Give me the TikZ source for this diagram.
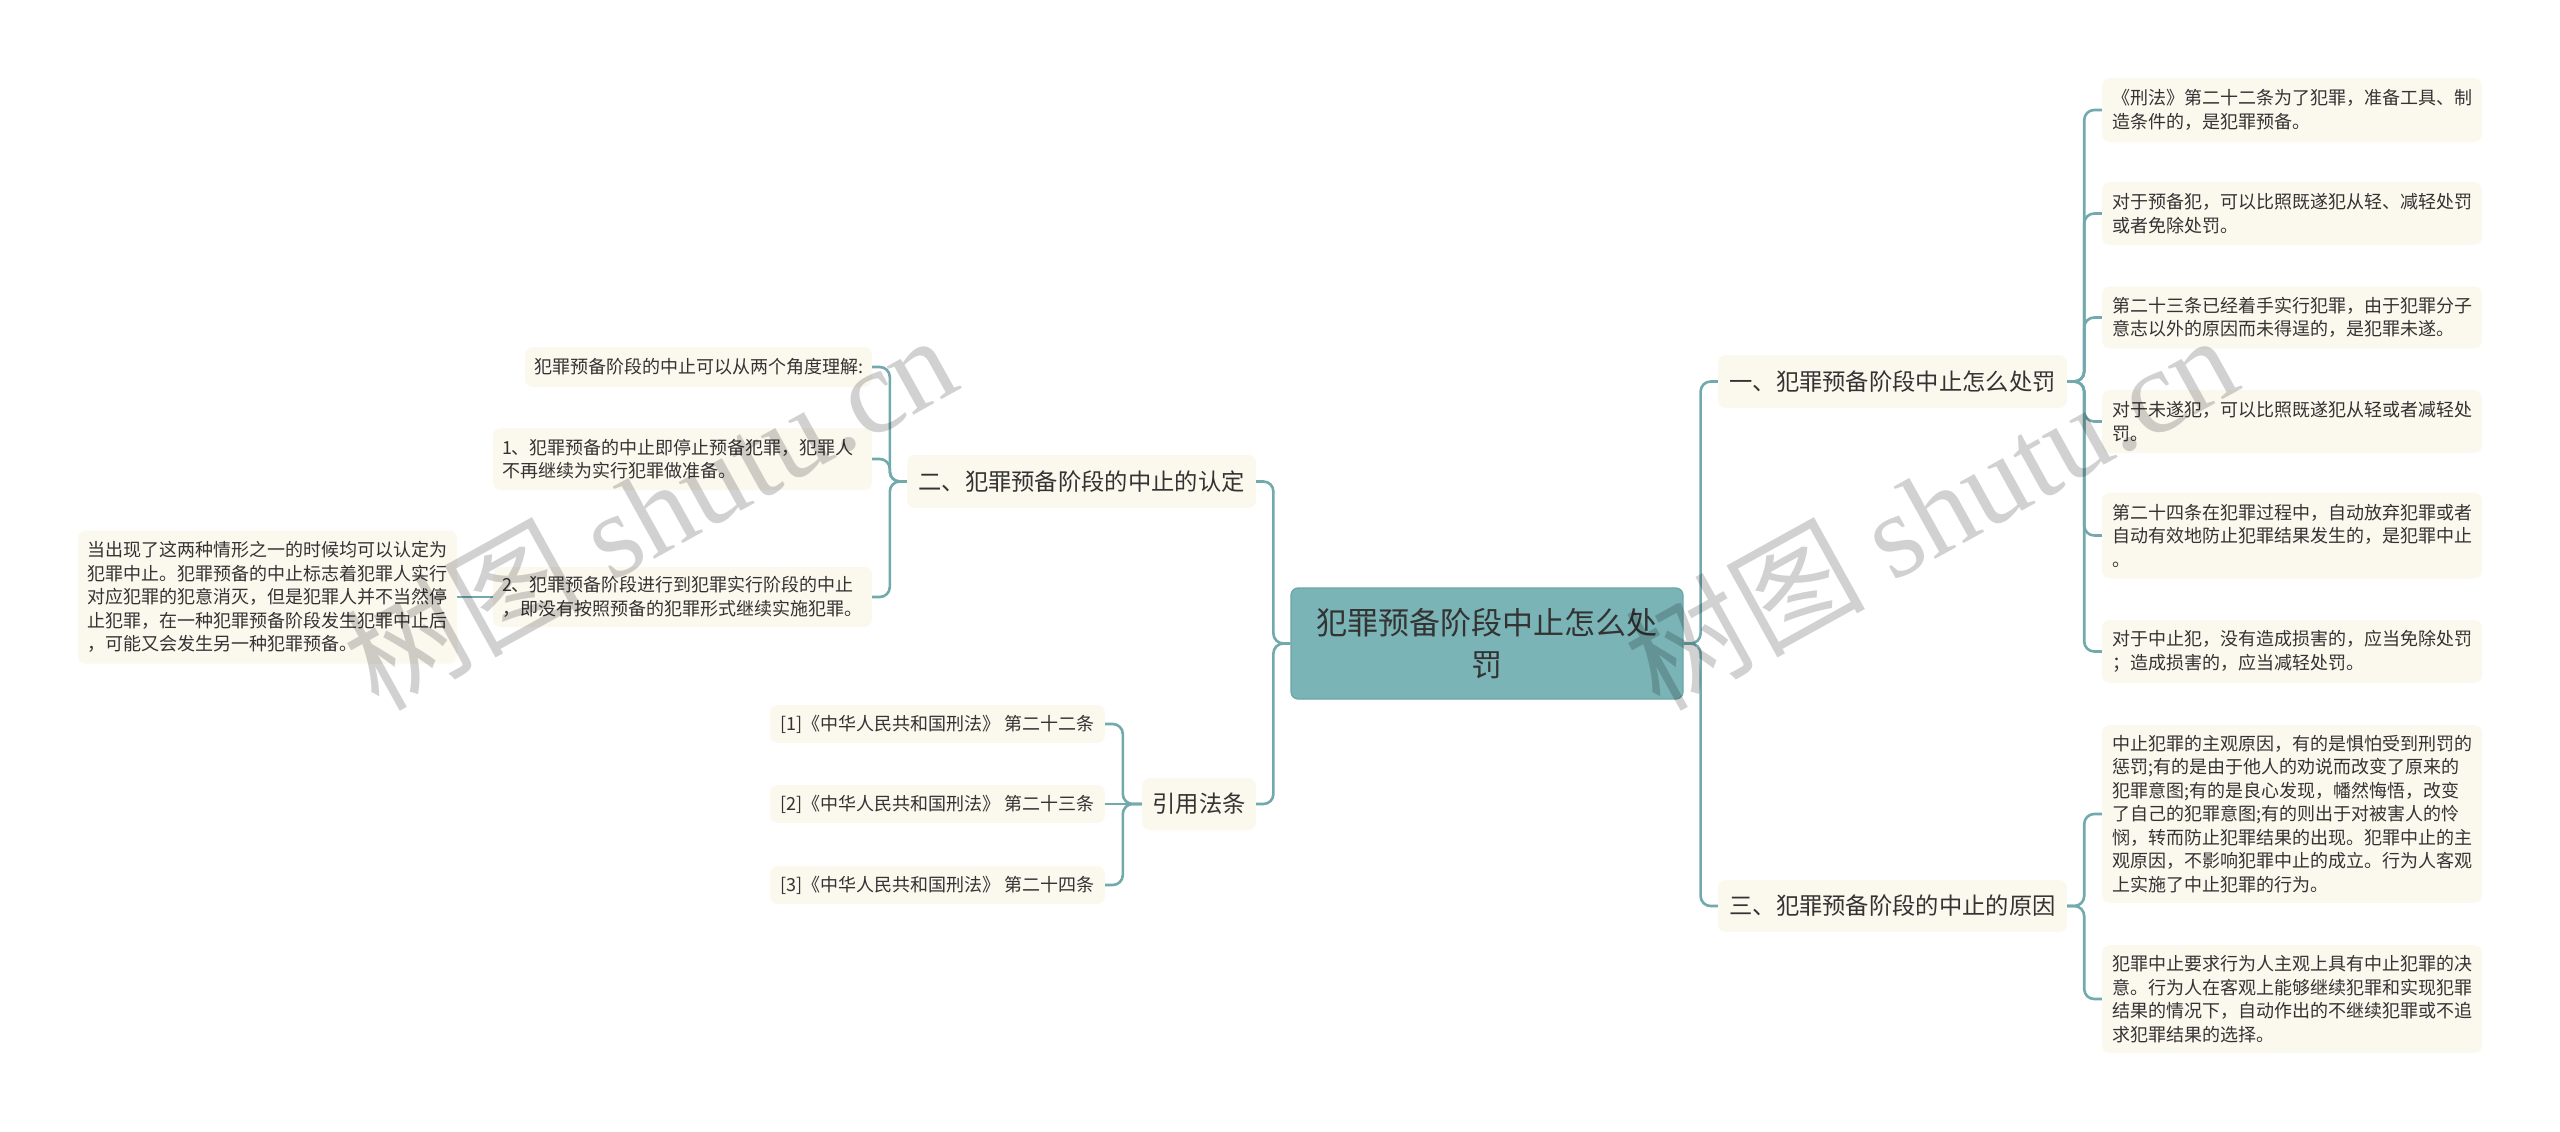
\documentclass[tikz,border=0pt]{standalone}
\usepackage{fontspec}
\setmainfont{Noto Sans CJK SC}
\newfontfamily\wmlatin{Liberation Serif}
\definecolor{connc}{HTML}{72A9AD}
\definecolor{leafbg}{HTML}{FBF8EE}
\definecolor{txt}{HTML}{333333}
\definecolor{cenbg}{HTML}{7BB4B6}
\definecolor{cenbd}{HTML}{6AA6A8}
\tikzset{
  leaf/.style={fill=leafbg, rounded corners=8pt, text=txt, inner sep=0pt,
    font=\fontsize{18}{23.5}\selectfont, align=left},
  lvone/.style={fill=leafbg, rounded corners=8pt, text=txt, inner sep=0pt,
    font=\fontsize{23.3}{28}\selectfont, align=center},
  central/.style={fill=cenbg, draw=cenbd, line width=1.2pt, rounded corners=7pt,
    text=txt, inner sep=0pt, font=\fontsize{31}{42}\selectfont, align=center},
  conn/.style={draw=connc, line width=2.6pt, rounded corners=10pt},
  wm/.style={text=black, text opacity=0.18, font=\fontsize{120}{120}\selectfont, inner sep=0pt}
}
\begin{document}
\begin{tikzpicture}[x=1pt,y=-1pt]
\useasboundingbox (0,0) rectangle (2560,1132);
\fill[white] (0,0) rectangle (2560,1132);

% central
\node[central, minimum width=392, minimum height=111] (c) at (1487,643.5) {犯罪预备阶段中止怎么处\\罚};

% level one
\node[lvone, minimum width=349, minimum height=53] (l1a) at (1892.5,381.5) {一、犯罪预备阶段中止怎么处罚};
\node[lvone, minimum width=349, minimum height=52] (l1c) at (1892.5,906) {三、犯罪预备阶段的中止的原因};
\node[lvone, minimum width=349, minimum height=53] (l1b) at (1081.5,481.5) {二、犯罪预备阶段的中止的认定};
\node[lvone, minimum width=114, minimum height=52] (l1d) at (1199,804) {引用法条};

% right leaves
\node[leaf, minimum width=380, minimum height=64, text width=360] (r1) at (2292,110) {《刑法》第二十二条为了犯罪，准备工具、制\\造条件的，是犯罪预备。};
\node[leaf, minimum width=380, minimum height=63, text width=360] (r2) at (2292,213.5) {对于预备犯，可以比照既遂犯从轻、减轻处罚\\或者免除处罚。};
\node[leaf, minimum width=380, minimum height=62, text width=360] (r3) at (2292,317.5) {第二十三条已经着手实行犯罪，由于犯罪分子\\意志以外的原因而未得逞的，是犯罪未遂。};
\node[leaf, minimum width=380, minimum height=63, text width=360] (r4) at (2292,421.5) {对于未遂犯，可以比照既遂犯从轻或者减轻处\\罚。};
\node[leaf, minimum width=380, minimum height=86, text width=360] (r5) at (2292,535.5) {第二十四条在犯罪过程中，自动放弃犯罪或者\\自动有效地防止犯罪结果发生的，是犯罪中止\\。};
\node[leaf, minimum width=380, minimum height=63, text width=360] (r6) at (2292,651.5) {对于中止犯，没有造成损害的，应当免除处罚\\；造成损害的，应当减轻处罚。};
\node[leaf, minimum width=380, minimum height=178, text width=360] (r7) at (2292,814) {中止犯罪的主观原因，有的是惧怕受到刑罚的\\惩罚;有的是由于他人的劝说而改变了原来的\\犯罪意图;有的是良心发现，幡然悔悟，改变\\了自己的犯罪意图;有的则出于对被害人的怜\\悯，转而防止犯罪结果的出现。犯罪中止的主\\观原因，不影响犯罪中止的成立。行为人客观\\上实施了中止犯罪的行为。};
\node[leaf, minimum width=380, minimum height=108, text width=360] (r8) at (2292,999) {犯罪中止要求行为人主观上具有中止犯罪的决\\意。行为人在客观上能够继续犯罪和实现犯罪\\结果的情况下，自动作出的不继续犯罪或不追\\求犯罪结果的选择。};

% left leaves
\node[leaf, minimum width=347, minimum height=40, align=center] (la) at (698.5,367) {犯罪预备阶段的中止可以从两个角度理解:};
\node[leaf, minimum width=379, minimum height=62, text width=361] (lb) at (682.5,459) {1、犯罪预备的中止即停止预备犯罪，犯罪人\\不再继续为实行犯罪做准备。};
\node[leaf, minimum width=379, minimum height=60, text width=361] (lc) at (682.5,597) {2、犯罪预备阶段进行到犯罪实行阶段的中止\\，即没有按照预备的犯罪形式继续实施犯罪。};
\node[leaf, minimum width=379, minimum height=133, text width=361] (ld) at (267.5,597) {当出现了这两种情形之一的时候均可以认定为\\犯罪中止。犯罪预备的中止标志着犯罪人实行\\对应犯罪的犯意消灭，但是犯罪人并不当然停\\止犯罪，在一种犯罪预备阶段发生犯罪中止后\\，可能又会发生另一种犯罪预备。};

% citations
\node[leaf, minimum width=335, minimum height=38, align=center] (c1) at (937.5,724) {[1]《中华人民共和国刑法》 第二十二条};
\node[leaf, minimum width=335, minimum height=38, align=center] (c2) at (937.5,804) {[2]《中华人民共和国刑法》 第二十三条};
\node[leaf, minimum width=335, minimum height=38, align=center] (c3) at (937.5,885) {[3]《中华人民共和国刑法》 第二十四条};

% connectors
\draw[conn] (c.east) -- ++(17,0) |- (l1a.west);
\draw[conn] (c.east) -- ++(17,0) |- (l1c.west);
\draw[conn] (c.west) -- ++(-17,0) |- (l1b.east);
\draw[conn] (c.west) -- ++(-17,0) |- (l1d.east);
\foreach \n in {r1,r2,r3,r4,r5,r6} \draw[conn] (l1a.east) -- ++(17,0) |- (\n.west);
\foreach \n in {r7,r8} \draw[conn] (l1c.east) -- ++(17,0) |- (\n.west);
\foreach \n in {la,lb,lc} \draw[conn] (l1b.west) -- ++(-17,0) |- (\n.east);
\foreach \n in {c1,c3} \draw[conn] (l1d.west) -- ++(-19,0) |- (\n.east);
\draw[conn] (l1d.west) -- (c2.east);
\draw[conn] (lc.west) -- (ld.east);

% watermark
\node[wm, rotate=29] (wm1) at (649,510) {树图 {\wmlatin shutu.cn}};
\node[wm, rotate=29] (wm2) at (1930,510) {树图 {\wmlatin shutu.cn}};
\end{tikzpicture}
\end{document}
